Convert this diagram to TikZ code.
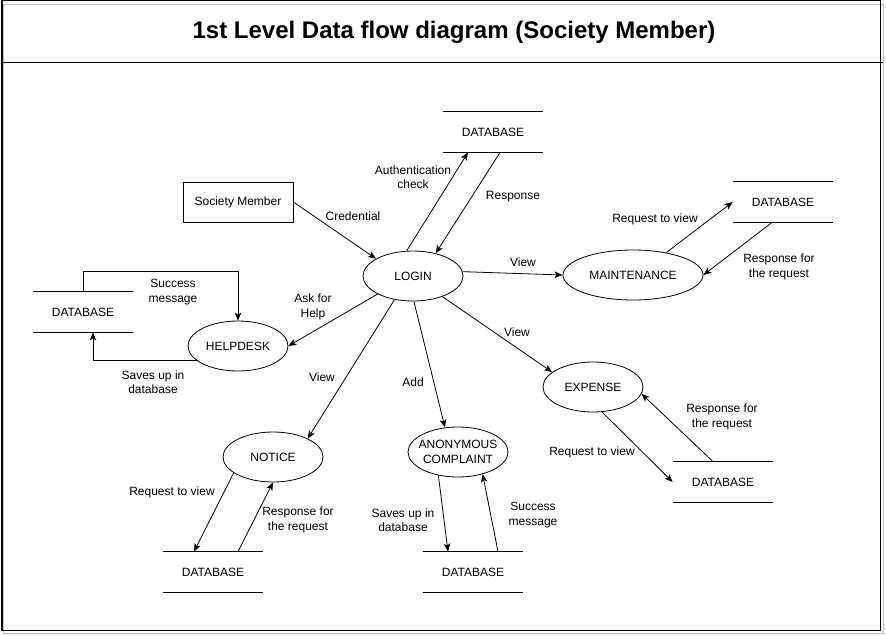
\documentclass[tikz,border=0pt]{standalone}
\usepackage{fontspec}
\setmainfont{Liberation Sans}
\usetikzlibrary{arrows.meta,shapes.geometric}
\begin{document}
\begin{tikzpicture}[x=1pt,y=-1pt,line width=0.8pt,
  every node/.style={font=\fontsize{12}{14.5}\selectfont},
  proc/.style={draw, ellipse, minimum width=100pt, minimum height=50pt, inner sep=0pt},
  ext/.style={draw, rectangle, minimum width=110pt, minimum height=40pt, inner sep=0pt},
  store/.style={minimum width=100pt, minimum height=40pt, inner sep=0pt,
    append after command={(\tikzlastnode.north west) edge[line width=0.9pt] (\tikzlastnode.north east)
      (\tikzlastnode.south west) edge[line width=0.9pt] (\tikzlastnode.south east)}},
  flow/.style={-{Stealth[length=8pt,width=6.5pt,inset=2pt]}},
  lbl/.style={align=center, inner sep=0pt}
]
\useasboundingbox (0,0) rectangle (886,635);
% frame
\draw[black!25, line width=1pt] (3.5,4) rectangle (883,633);
\draw[line width=1.2pt] (2,0.6) rectangle (880.5,630.5);
\draw[line width=1pt] (2,62) -- (883,62);
\node[font=\bfseries\fontsize{24}{28}\selectfont] (title) at (454,32) {1st Level Data flow diagram (Society Member)};

% nodes
\node[ext] (member) at (238,202) {Society Member};
\node[proc] (login) at (413,276) {LOGIN};
\node[store] (dbauth) at (493,132) {DATABASE};
\node[proc, minimum width=140pt] (maint) at (633,275) {MAINTENANCE};
\node[store] (dbmaint) at (783,202) {DATABASE};
\node[proc] (help) at (238,346) {HELPDESK};
\node[store] (dbhelp) at (83,312) {DATABASE};
\node[proc] (expense) at (593,387) {EXPENSE};
\node[store] (dbexp) at (723,482) {DATABASE};
\node[proc] (notice) at (273,457) {NOTICE};
\node[store] (dbnotice) at (213,572) {DATABASE};
\node[proc, label={[lbl]center:{ANONYMOUS\\COMPLAINT}}] (anon) at (458,452) {};
\node[store] (dbanon) at (473,572) {DATABASE};

% connectors
\draw[flow] (member.east) -- (login.155);
\draw[flow] (login.104) -- ([xshift=-25pt]dbauth.south);
\draw[flow] ([xshift=7pt]dbauth.south) -- (login.45);
\draw[flow] (login.5) -- (maint.west);
\draw[flow] (maint.34) -- (dbmaint.west);
\draw[flow] ([xshift=-11pt]dbmaint.south) -- (maint.east);
\draw[flow] (login.207) -- (help.east);
\draw[flow] (dbhelp.north) -- ++(0,-20) -| (help.north);
\draw[flow] (help.200) -| ([xshift=10pt]dbhelp.south);
\draw[flow] (login.232) -- (notice.28);
\draw[flow] (login.-88) -- (anon.118);
\draw[flow] (login.325) -- (expense.160);
\draw[flow] (expense.290) -- (dbexp.west);
\draw[flow] ([xshift=-10pt]dbexp.north) -- (expense.352);
\draw[flow] (notice.202) -- ([xshift=-19pt]dbnotice.north);
\draw[flow] ([xshift=25pt]dbnotice.north) -- (notice.south);
\draw[flow] (anon.230) -- ([xshift=-25pt]dbanon.north);
\draw[flow] ([xshift=25pt]dbanon.north) -- (anon.318);

% labels
\node[lbl] (lcred) at (353,216) {Credential};
\node[lbl] (lauth) at (413,177) {Authentication\\check};
\node[lbl] (lresp) at (513,197) {Response};
\node[lbl] (lview1) at (523,262) {View};
\node[lbl] (lreqm) at (655,219) {Request to view};
\node[lbl] (lrespm) at (779,267) {Response for\\the request};
\node[lbl] (lsuch) at (173,292) {Success\\message};
\node[lbl] (lsaveh) at (153,382) {Saves up in\\database};
\node[lbl] (lask) at (313,307) {Ask for\\Help};
\node[lbl] (lview2) at (322,377) {View};
\node[lbl] (ladd) at (413,382) {Add};
\node[lbl] (lview3) at (517,332) {View};
\node[lbl] (lreqe) at (592,452) {Request to view};
\node[lbl] (lrespe) at (722,417) {Response for\\the request};
\node[lbl] (lreqn) at (172,492) {Request to view};
\node[lbl] (lrespn) at (298,520) {Response for\\the request};
\node[lbl] (lsavea) at (403,520) {Saves up in\\database};
\node[lbl] (lsucca) at (533,515) {Success\\message};
\end{tikzpicture}
\end{document}
